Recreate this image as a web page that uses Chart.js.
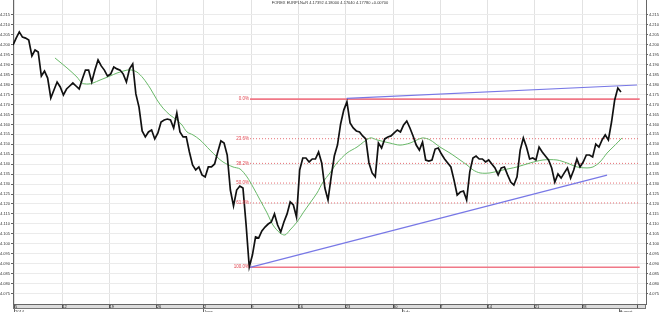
<!DOCTYPE html>
<html><head><meta charset="utf-8">
<script src="https://cdn.jsdelivr.net/npm/chart.js@4/dist/chart.umd.min.js"></script>
<style>html,body{margin:0;padding:0;background:#fff;}canvas{display:block;}</style>
</head><body>
<canvas id="c" width="660" height="312"></canvas>
<script>
const TITLE = "FOREX EURPLN=R 4.17392 4.18000 4.17040 4.17780 +0.00700";

// price series: sampled every 1/3 trading day, starting just before Mon 5 May 2014 (day 0)
const priceStartDay = -0.21;
const priceStepDay = 1 / 3;
const priceValues = [
 4.1999,4.2034,4.2065,4.2039,4.2034,4.2024,4.1944,4.1974,4.1964,4.1843,
 4.1868,4.1833,4.1733,4.1773,4.1813,4.1788,4.1748,4.1778,4.1793,4.1808,
 4.1793,4.1778,4.1828,4.1873,4.1873,4.1813,4.1873,4.1924,4.1894,4.1873,
 4.1843,4.1853,4.1889,4.1879,4.1873,4.1853,4.1813,4.1879,4.1904,4.1753,
 4.1687,4.1567,4.1537,4.1562,4.1572,4.1527,4.1557,4.1612,4.1622,4.1627,
 4.1622,4.1582,4.1657,4.1562,4.1537,4.1537,4.1461,4.1396,4.1371,4.1386,
 4.1346,4.1336,4.1386,4.1386,4.1401,4.1461,4.1517,4.1506,4.1446,4.1270,
 4.1190,4.1270,4.1290,4.1280,4.1094,4.0883,4.0943,4.1034,4.1029,4.1064,
 4.1084,4.1099,4.1109,4.1150,4.1094,4.1059,4.1109,4.1150,4.1210,4.1195,
 4.1134,4.1371,4.1431,4.1431,4.1411,4.1426,4.1426,4.1461,4.1406,4.1280,
 4.1220,4.1336,4.1441,4.1496,4.1602,4.1672,4.1713,4.1607,4.1582,4.1567,
 4.1562,4.1542,4.1527,4.1406,4.1356,4.1336,4.1506,4.1481,4.1527,4.1537,
 4.1542,4.1557,4.1572,4.1562,4.1597,4.1617,4.1582,4.1542,4.1496,4.1471,
 4.1511,4.1421,4.1416,4.1421,4.1476,4.1481,4.1451,4.1426,4.1406,4.1386,
 4.1320,4.1245,4.1260,4.1265,4.1220,4.1361,4.1431,4.1441,4.1426,4.1426,
 4.1411,4.1421,4.1401,4.1381,4.1346,4.1381,4.1386,4.1346,4.1310,4.1295,
 4.1336,4.1471,4.1532,4.1486,4.1426,4.1431,4.1421,4.1486,4.1461,4.1441,
 4.1421,4.1381,4.1310,4.1351,4.1330,4.1356,4.1381,4.1330,4.1371,4.1426,
 4.1386,4.1411,4.1446,4.1446,4.1436,4.1501,4.1486,4.1522,4.1547,4.1522,
 4.1612,4.1723,4.1783,4.1763
];

// moving average (green), read at these trading-day positions
const maDays = [
 4.23,5.50,6.56,7.09,7.73,8.25,9.00,10.05,10.79,11.85,12.38,12.91,13.55,14.29,15.03,
 15.66,16.40,17.14,17.67,18.20,18.84,19.58,20.63,21.38,22.01,23.07,23.81,24.55,25.19,
 25.93,26.67,27.30,28.04,28.57,29.10,29.84,30.48,31.22,31.96,32.59,33.33,34.07,35.13,
 36.19,37.57,38.31,39.68,40.74,41.80,42.54,43.17,43.92,44.97,46.03,47.09,47.83,48.47,
 49.21,50.26,51.64,53.12,54.50,55.87,57.35,58.41,59.47,60.53,61.16,61.90,62.65,63.28,
 63.81,64.23
];
const maValues = [
 4.1934,4.1884,4.1838,4.1808,4.1803,4.1808,4.1823,4.1843,4.1858,4.1873,4.1873,4.1863,4.1833,4.1783,4.1723,
 4.1682,4.1647,4.1622,4.1597,4.1562,4.1547,4.1522,4.1471,4.1436,4.1411,4.1386,4.1376,4.1336,4.1285,
 4.1220,4.1155,4.1094,4.1054,4.1044,4.1069,4.1109,4.1155,4.1205,4.1255,4.1310,4.1356,4.1406,4.1456,
 4.1486,4.1532,4.1522,4.1506,4.1496,4.1506,4.1522,4.1532,4.1522,4.1486,4.1456,4.1421,4.1396,4.1371,
 4.1356,4.1356,4.1371,4.1386,4.1406,4.1421,4.1421,4.1406,4.1386,4.1381,4.1386,4.1411,4.1456,4.1486,
 4.1511,4.1532
];

// trend lines (blue)
const upperTrendDays = [35.10, 65.82];
const upperTrendValues = [4.1731, 4.1798];
const lowerTrendDays = [24.87, 62.65];
const lowerTrendValues = [4.0881, 4.1345];

// Fibonacci retracement
const fibLabels = ["0.0%","23.6%","38.2%","50.0%","61.8%","100.0%"];
const fibValues = [4.1727, 4.1528, 4.1404, 4.1305, 4.1205, 4.0882];
const fibSolid = [true, false, false, false, false, true];
const fibStartDay = 24.87;
const fibEndDay = 66.10;

// axes
const weekTickDays = [0,5,10,15,20,25,30,35,40,45,50,55,60,65.9];
const weekTickLabels = ["5","12","19","26","2","9","16","23","30","7","14","21","28",""];
const monthTickDays = [0,20,41,64];
const monthTickLabels = ["2014","June","July","August"];
const priceTicks = [4.215,4.210,4.205,4.200,4.195,4.190,4.185,4.180,4.175,4.170,4.165,4.160,4.155,4.150,
 4.145,4.140,4.135,4.130,4.125,4.120,4.115,4.110,4.105,4.100,4.095,4.090,4.085,4.080,4.075];

const FONT = "'Liberation Sans', 'DejaVu Sans', sans-serif";
const X_MIN = -0.21, X_MAX = 66.77, Y_MIN = 4.0697, Y_MAX = 4.22254;

const datasets = [
  { label: 'EURPLN', data: priceValues.map((v, i) => ({ x: priceStartDay + i * priceStepDay, y: v })),
    borderColor: '#111', borderWidth: 1.7, pointRadius: 0, tension: 0 },
  { label: 'MA', data: maDays.map((d, i) => ({ x: d, y: maValues[i] })),
    borderColor: 'rgb(105,185,105)', borderWidth: 1, pointRadius: 0, tension: 0.3 },
  { label: 'Trend up', data: upperTrendDays.map((d, i) => ({ x: d, y: upperTrendValues[i] })),
    borderColor: 'rgb(120,120,230)', borderWidth: 1.2, pointRadius: 0 },
  { label: 'Trend low', data: lowerTrendDays.map((d, i) => ({ x: d, y: lowerTrendValues[i] })),
    borderColor: 'rgb(120,120,230)', borderWidth: 1.2, pointRadius: 0 }
];
fibValues.forEach((v, i) => {
  datasets.push({ label: 'Fib ' + fibLabels[i], data: [{ x: fibStartDay, y: v }, { x: fibEndDay, y: v }],
    borderColor: fibSolid[i] ? 'rgb(240,120,135)' : 'rgb(230,110,115)',
    borderWidth: fibSolid[i] ? 1.6 : 1, borderDash: fibSolid[i] ? [] : [1, 2], pointRadius: 0 });
});

const noPad = s => { s.paddingTop = 0; s.paddingBottom = 0; s.paddingLeft = 0; s.paddingRight = 0; };

const decor = {
  id: 'decor',
  beforeDraw(chart) {
    const { ctx, chartArea, scales } = chart;
    ctx.save();
    ctx.fillStyle = '#fff';
    ctx.fillRect(0, 0, chart.width, chart.height);
    const xs = scales.x;
    ctx.fillStyle = '#dcdcdc';
    ctx.fillRect(chartArea.left, xs.top, chartArea.right - chartArea.left, xs.bottom - xs.top);
    ctx.strokeStyle = '#777';
    ctx.lineWidth = 1;
    ctx.strokeRect(chartArea.left + 0.5, xs.top + 0.5, chartArea.right - chartArea.left - 1, xs.bottom - xs.top - 1);
    ctx.restore();
  },
  afterDatasetsDraw(chart) {
    const { ctx, scales } = chart;
    ctx.save();
    ctx.font = '4.5px ' + FONT;
    ctx.fillStyle = 'rgb(225,70,80)';
    ctx.textAlign = 'right';
    ctx.textBaseline = 'middle';
    const x0 = scales.x.getPixelForValue(fibStartDay) - 1;
    fibValues.forEach((v, i) => ctx.fillText(fibLabels[i], x0, scales.y.getPixelForValue(v)));
    ctx.font = '4px ' + FONT;
    ctx.fillStyle = '#333';
    ctx.textAlign = 'center';
    ctx.textBaseline = 'top';
    ctx.fillText(TITLE, chart.width / 2, 1);
    ctx.restore();
  }
};

new Chart(document.getElementById('c'), {
  type: 'line',
  data: { datasets },
  plugins: [decor],
  options: {
    responsive: false, animation: false, devicePixelRatio: 1, events: [],
    layout: { padding: 0 },
    plugins: { legend: { display: false }, tooltip: { enabled: false }, title: { display: false } },
    scales: {
      x: {
        type: 'linear', position: 'bottom', min: X_MIN, max: X_MAX,
        afterBuildTicks: s => { s.ticks = weekTickDays.map(v => ({ value: v })); },
        afterFit: s => { s.height = 5; noPad(s); },
        grid: { color: '#e2e2e2', lineWidth: 1, drawTicks: true, tickLength: 4, tickColor: '#555' },
        border: { display: true, color: '#666' },
        ticks: { autoSkip: false, maxRotation: 0, align: 'start', padding: -4, color: '#222',
          font: { size: 4, family: FONT }, callback: (v, i) => weekTickLabels[i] }
      },
      x2: {
        type: 'linear', position: 'bottom', min: X_MIN, max: X_MAX,
        afterBuildTicks: s => { s.ticks = monthTickDays.map(v => ({ value: v })); },
        afterFit: s => { s.height = 3; noPad(s); },
        grid: { drawOnChartArea: false, drawTicks: true, tickLength: 3, tickColor: '#666' },
        border: { display: false },
        ticks: { autoSkip: false, maxRotation: 0, align: 'start', padding: -3, color: '#333',
          font: { size: 4, family: FONT }, callback: (v, i) => monthTickLabels[i] }
      },
      y: {
        position: 'left', min: Y_MIN, max: Y_MAX,
        afterBuildTicks: s => { s.ticks = priceTicks.map(v => ({ value: v })); },
        afterFit: s => { s.width = 13; noPad(s); },
        grid: { color: '#ebebeb', tickLength: 2, tickColor: '#666' },
        border: { color: '#666' },
        ticks: { color: '#333', padding: 1, font: { size: 4, family: FONT }, callback: v => v.toFixed(3) }
      },
      y2: {
        position: 'right', min: Y_MIN, max: Y_MAX,
        afterBuildTicks: s => { s.ticks = priceTicks.map(v => ({ value: v })); },
        afterFit: s => { s.width = 14; noPad(s); },
        grid: { drawOnChartArea: false, tickLength: 2, tickColor: '#666' },
        border: { color: '#666' },
        ticks: { color: '#333', padding: 1, font: { size: 4, family: FONT }, callback: v => v.toFixed(3) }
      }
    }
  }
});
</script>
</body></html>
